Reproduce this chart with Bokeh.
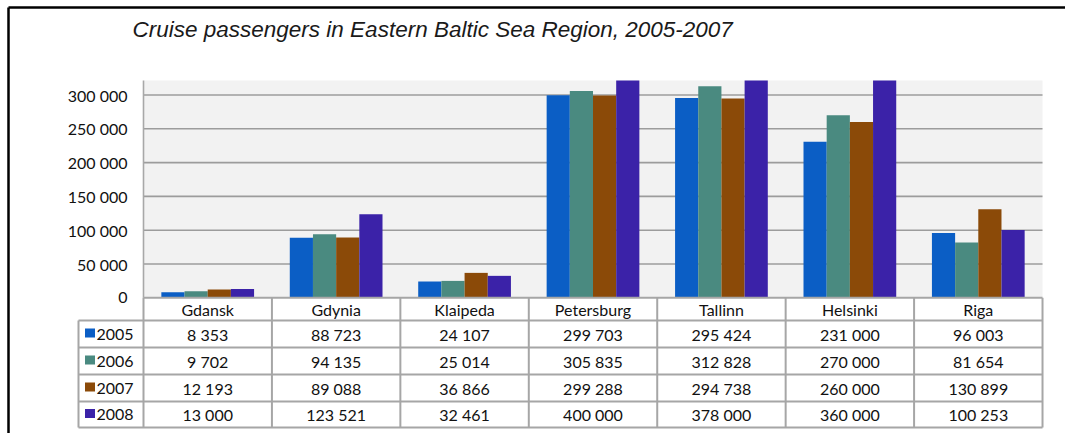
import numpy as np
from bokeh.plotting import figure
from bokeh.models import Range1d
from bokeh.core.properties import value
from bokeh.embed import file_html
from bokeh.resources import INLINE

# ---------------- data ----------------
cities = ["Gdansk", "Gdynia", "Klaipeda", "Petersburg", "Tallinn", "Helsinki", "Riga"]
years = ["2005", "2006", "2007", "2008"]
p2005 = [8353, 88723, 24107, 299703, 295424, 231000, 96003]
p2006 = [9702, 94135, 25014, 305835, 312828, 270000, 81654]
p2007 = [12193, 89088, 36866, 299288, 294738, 260000, 130899]
p2008 = [13000, 123521, 32461, 400000, 378000, 360000, 100253]
y_ticks = [0, 50000, 100000, 150000, 200000, 250000, 300000]
y_tick_labels = ["0", "50 000", "100 000", "150 000", "200 000", "250 000", "300 000"]
title_text = "Cruise passengers in Eastern Baltic Sea Region, 2005-2007"

series = [p2005, p2006, p2007, p2008]
colors = ["#0B5EC5", "#4A8A80", "#8B4A08", "#3B22A8"]

# ---------------- layout geometry (pixels) ----------------
W, H = 1065, 433
PX0 = 143.0          # left edge of plot area
CW = 128.43          # width of one category
Y0 = 297.3           # pixel row of value 0
VPP = 50000 / 33.8   # values per pixel
PLOT_TOP = 80.0
Y_MAX = (Y0 - PLOT_TOP) * VPP   # top of the value axis

TXT = "#111111"
FONT = value("Lato")

def fmt(v):
    return f"{v:,}".replace(",", " ")

p = figure(width=W, height=H, output_backend="svg", toolbar_location=None,
           x_range=Range1d(-PX0 / CW, (W - PX0) / CW),
           y_range=Range1d(-(H - Y0) * VPP, Y0 * VPP),
           x_axis_location=None, y_axis_location=None,
           min_border=0, outline_line_color=None,
           background_fill_color="white", border_fill_color="white")
p.grid.grid_line_color = None
p.extra_x_ranges = {"px": Range1d(0, W)}
p.extra_y_ranges = {"px": Range1d(H, 0)}

n = len(cities)
# plot background
p.quad(left=[0], right=[n], bottom=[0], top=[Y_MAX], fill_color="#f2f2f2", line_color=None)

# grid lines
gt = y_ticks[1:]
p.segment(x0=[0] * len(gt), x1=[n] * len(gt), y0=gt, y1=gt, line_color="#9c9c9c", line_width=1.6)

# y axis line
p.segment(x0=[0], x1=[0], y0=[0], y1=[Y_MAX], line_color="#a8a8a8", line_width=1.6)

# y tick labels
p.text(x=[(127 - PX0) / CW] * len(y_ticks), y=y_ticks, text=y_tick_labels,
       text_align="right", text_baseline="middle", text_font=FONT,
       text_font_size="16px", text_color=TXT)

# bars
bw = 0.1805
offsets = [-1.5 * bw, -0.5 * bw, 0.5 * bw, 1.5 * bw]
xc = np.arange(n) + 0.5
for vals, off, col in zip(series, offsets, colors):
    top = np.minimum(np.array(vals, dtype=float), Y_MAX)
    p.vbar(x=xc + off, top=top, bottom=0, width=bw, fill_color=col, line_color=None)

# ---------------- data table ----------------
grid_col = "#a6a6a6"
LEG_L = (78 - PX0) / CW
row_lines = [320, 347, 374, 401, 427]
# header top line (zero line)
p.segment(x0=[0], x1=[n], y0=[Y0], y1=[Y0], y_range_name="px", line_color=grid_col, line_width=2)
p.segment(x0=[LEG_L] * len(row_lines), x1=[n] * len(row_lines), y0=row_lines, y1=row_lines,
          y_range_name="px", line_color=grid_col, line_width=2)
vx = list(range(n + 1))
p.segment(x0=vx, x1=vx, y0=[Y0] * len(vx), y1=[427] * len(vx), y_range_name="px",
          line_color=grid_col, line_width=2)
p.segment(x0=[LEG_L], x1=[LEG_L], y0=[320], y1=[427], y_range_name="px",
          line_color=grid_col, line_width=2)

# header
p.text(x=list(xc), y=[309] * n, text=cities, y_range_name="px",
       text_align="center", text_baseline="middle", text_font=FONT,
       text_font_size="16px", text_color=TXT)

row_centers = [333.5, 360.5, 387.5, 414]
for vals, yc, yr, col in zip(series, row_centers, years, colors):
    p.text(x=list(xc), y=[yc] * n, text=[fmt(v) for v in vals], y_range_name="px",
           text_align="center", text_baseline="middle", text_font=FONT,
           text_font_size="16px", text_color=TXT)
    p.rect(x=[89.5], y=[yc - 1], width=10, height=9, x_range_name="px", y_range_name="px",
           fill_color=col, line_color=None)
    p.text(x=[96], y=[yc], text=[yr], x_range_name="px", y_range_name="px",
           text_align="left", text_baseline="middle", text_font=FONT,
           text_font_size="16px", text_color=TXT)

# ---------------- title and frame ----------------
p.text(x=[132], y=[29], text=[title_text], x_range_name="px", y_range_name="px",
       text_align="left", text_baseline="alphabetic", text_font=value("Liberation Sans"),
       text_font_style="italic", text_font_size="22.5px", text_color="#1a1a1a")
p.line(x=[8, W], y=[7, 7], x_range_name="px", y_range_name="px", line_color="black", line_width=2.5)
p.line(x=[8, 8], y=[7, H], x_range_name="px", y_range_name="px", line_color="black", line_width=2.5)

open("out.html", "w").write(file_html(p, INLINE))
